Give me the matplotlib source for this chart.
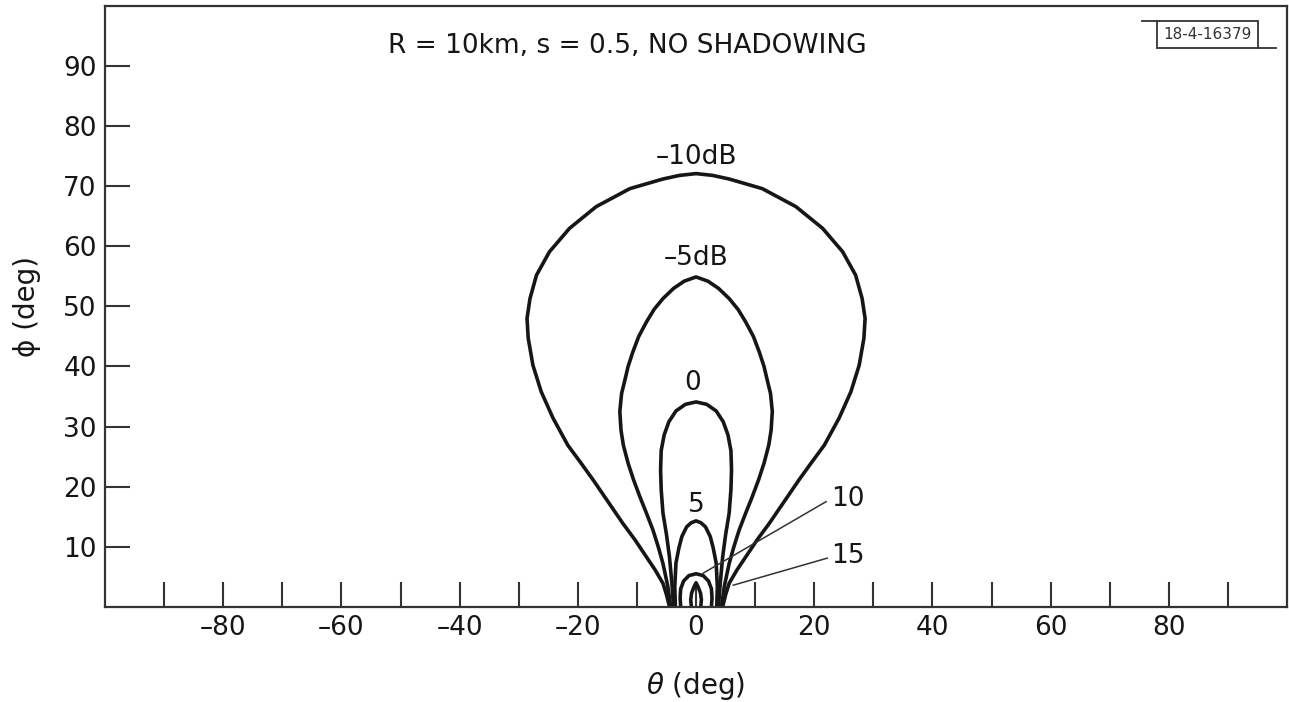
import numpy as np
import matplotlib.pyplot as plt

plt.rcParams['font.family'] = 'DejaVu Sans'
plt.rcParams['mathtext.fontset'] = 'dejavusans'

# right-hand half of each contour, (theta, phi) in degrees, from the base up to the apex
th_m10 = [4.5, 5.0, 5.6, 6.9, 8.4, 10.3, 12.4, 14.9, 17.4, 19.6, 21.7, 24.2, 26.2, 27.6,
          28.4, 28.6, 28.1, 27.0, 24.8, 21.4, 16.9, 11.2, 5.6, 2.8, 0.0]
ph_m10 = [0.0, 2.0, 3.9, 6.1, 8.3, 11.1, 13.9, 17.5, 21.1, 24.1, 26.9, 31.4, 35.8, 40.2,
          44.7, 48.0, 51.3, 55.2, 59.1, 63.0, 66.6, 69.6, 71.2, 71.8, 72.1]

th_m5 = [4.3, 4.8, 5.6, 6.4, 7.3, 8.4, 9.5, 10.6, 11.5, 12.3, 12.7, 12.9, 12.6, 12.1,
         11.5, 10.7, 9.7, 8.4, 7.1, 5.6, 3.8, 2.0, 0.0]
ph_m5 = [0.0, 3.5, 7.2, 10.0, 12.8, 15.6, 18.3, 21.2, 23.9, 26.9, 29.4, 32.5, 35.5, 37.5,
         40.0, 42.4, 45.0, 47.4, 49.5, 51.3, 53.0, 54.2, 54.9]

th_0 = [3.8, 4.1, 4.5, 5.0, 5.6, 5.9, 6.0, 5.9, 5.4, 4.6, 3.4, 1.8, 0.0]
ph_0 = [0.0, 4.0, 8.3, 12.0, 15.6, 19.5, 22.8, 26.0, 28.6, 30.8, 32.6, 33.7, 34.1]

th_5 = [3.5, 3.6, 3.4, 2.9, 2.4, 1.6, 0.8, 0.0]
ph_5 = [0.0, 3.4, 7.3, 9.8, 11.7, 13.3, 14.0, 14.3]

th_10 = [2.6, 2.7, 2.6, 2.1, 1.2, 0.0]
ph_10 = [0.0, 1.5, 3.0, 4.3, 5.2, 5.5]

th_15 = [0.8, 0.9, 0.75, 0.35, 0.0]
ph_15 = [0.0, 1.2, 2.3, 3.3, 4.0]

contours = [(th_m10, ph_m10), (th_m5, ph_m5), (th_0, ph_0),
            (th_5, ph_5), (th_10, ph_10), (th_15, ph_15)]

# level labels placed on the apex of their curves
apex_labels = ['–10dB', '–5dB', '0', '5']
apex_x = [0.0, 0.0, -0.5, 0.0]
apex_y = [74.8, 58.0, 37.2, 17.0]

# the two small loops are labelled off to the side with leaders
side_labels = ['10', '15']
side_x = [22.8, 22.8]
side_y = [17.9, 8.5]
lead_from = [(22.0, 17.5), (22.2, 8.1)]
lead_to = [(1.2, 5.6), (6.3, 3.6)]

xticks = list(range(-90, 91, 10))
yticks = list(range(10, 91, 10))

ink = '#161616'

fig = plt.figure(figsize=(12.89, 7.02), dpi=100)
ax = fig.add_axes([0.0815, 0.1356, 0.917, 0.8559])

for th, ph in contours:
    th = np.array(th)
    ph = np.array(ph)
    x = np.concatenate([-th, th[::-1][1:]])
    y = np.concatenate([ph, ph[::-1][1:]])
    ax.plot(x, y, color=ink, lw=2.6, solid_joinstyle='round', solid_capstyle='round')

for s, x, y in zip(apex_labels, apex_x, apex_y):
    ax.text(x, y, s, ha='center', va='center', fontsize=19, color=ink)

for s, x, y in zip(side_labels, side_x, side_y):
    ax.text(x, y, s, ha='left', va='center', fontsize=19, color=ink)

for (x0, y0), (x1, y1) in zip(lead_from, lead_to):
    ax.plot([x0, x1], [y0, y1], color='#333333', lw=1.1)

ax.text(-11.6, 93.4, 'R = 10km, s = 0.5, NO SHADOWING', ha='center', va='center',
        fontsize=19, color=ink)

# drawing number tag in the upper right corner
ax.add_patch(plt.Rectangle((0.890, 0.9301), 0.0855, 0.0449, transform=ax.transAxes,
                           fill=False, lw=1.3, edgecolor='#333333'))
ax.plot([0.8773, 0.890], [0.9750, 0.9750], transform=ax.transAxes, color='#333333', lw=1.3)
ax.plot([0.9755, 0.9907], [0.9301, 0.9301], transform=ax.transAxes, color='#333333', lw=1.3)
ax.text(0.9328, 0.9525, '18-4-16379', transform=ax.transAxes, ha='center', va='center',
        fontsize=11, color='#333333')

ax.set_xlim(-100, 100)
ax.set_ylim(0, 100)
ax.set_xticks(xticks)
ax.set_xticklabels([str(v).replace('-', '–') if v % 20 == 0 else '' for v in xticks])
ax.set_yticks(yticks)
ax.set_yticklabels([str(v) for v in yticks])
ax.tick_params(direction='in', length=18, width=1.5, color='#333333',
               labelsize=19, labelcolor=ink, pad=6)
for sp in ax.spines.values():
    sp.set_linewidth(1.6)
    sp.set_color('#333333')

ax.set_xlabel(r'$\theta$ (deg)', fontsize=20, color=ink)
ax.xaxis.set_label_coords(0.5, -0.105)
ax.set_ylabel('ϕ (deg)', fontsize=20, color=ink)
ax.yaxis.set_label_coords(-0.054, 0.5)

fig.savefig('out.png', dpi=100)
